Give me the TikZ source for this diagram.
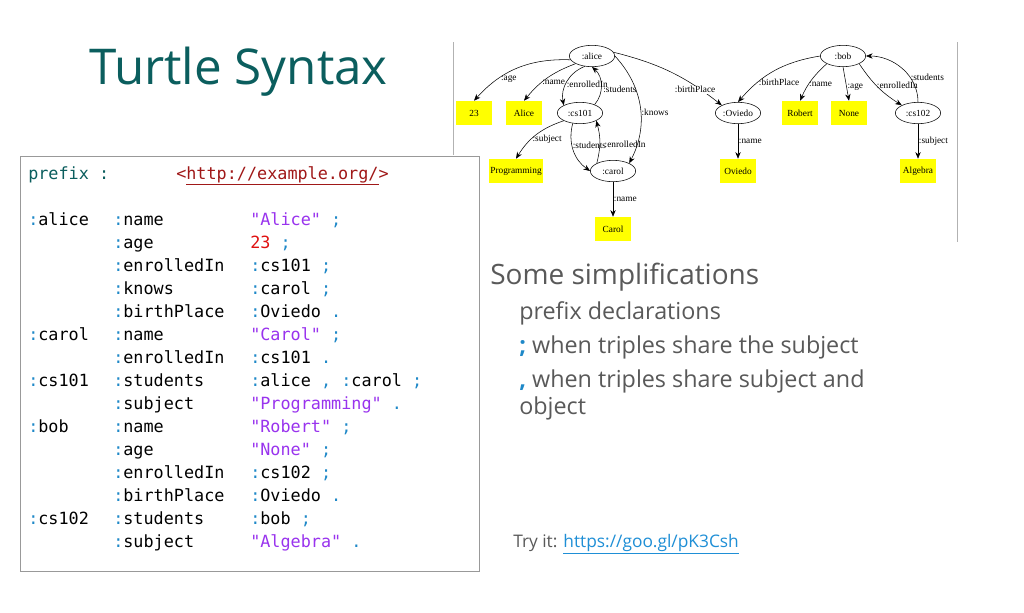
\documentclass[tikz,border=0pt]{standalone}
\usepackage{fontspec}
\setmainfont{Open Sans}
\setmonofont{DejaVu Sans Mono}
\newfontfamily\graphfont{Liberation Serif}
\usepackage{tikz}
\usetikzlibrary{arrows.meta,positioning,calc,shapes.geometric}
\definecolor{titleteal}{HTML}{0B5E5E}
\definecolor{kwteal}{HTML}{0B5E5E}
\definecolor{colblue}{HTML}{1E88C8}
\definecolor{strpurple}{HTML}{9933EE}
\definecolor{numred}{HTML}{E01010}
\definecolor{urlred}{HTML}{A01818}
\definecolor{textgray}{HTML}{595959}
\definecolor{linkblue}{HTML}{1F8FD6}
\definecolor{lityellow}{HTML}{FFFF00}
\newcommand{\tp}[1]{\textcolor{colblue}{#1}}
\newcommand{\tstr}[1]{\textcolor{strpurple}{#1}}
\newcommand{\tnum}[1]{\textcolor{numred}{#1}}
\begin{document}
\begin{tikzpicture}[x=0.75pt, y=-0.75pt,
    codetext/.style = {anchor=base west, inner sep=0pt, font=\ttfamily\fontsize{12.6}{14}\selectfont},
    res/.style = {draw, ellipse, minimum width=34pt, minimum height=16pt, inner sep=0pt, font=\graphfont\fontsize{7}{8}\selectfont},
    lit/.style = {fill=lityellow, minimum height=18pt, minimum width=27pt, inner sep=1pt, font=\graphfont\fontsize{7}{8}\selectfont},
    lbl/.style = {font=\graphfont\fontsize{7}{8}\selectfont, inner sep=0.5pt, anchor=west},
    rel/.style = {-{Stealth[length=5pt,width=4pt]}, thin},
    bullet/.style = {anchor=west, inner sep=0pt, text=textgray, font=\fontsize{17.5}{20}\selectfont}]
\useasboundingbox[fill=white] (0,0) rectangle (1024,612);
% title
\node[anchor=west, inner sep=0pt, text=titleteal, font=\fontsize{37}{44}\selectfont] (title) at (89,72) {Turtle Syntax};
% code box
\draw[gray!80] (20,156) rectangle (479,571);
\node[codetext, text=kwteal] (pfx) at (28,179) {prefix :};
\node[codetext, text=urlred] (url) at (176,179) {<\underline{http://example.org/}>};
\foreach \y/\subj/\pred/\obj in {
    219/{\tp{:}alice}/{\tp{:}name}/{\tstr{"Alice"} \tp{;}},
    242/{}/{\tp{:}age}/{\tnum{23} \tp{;}},
    265/{}/{\tp{:}enrolledIn}/{\tp{:}cs101 \tp{;}},
    288/{}/{\tp{:}knows}/{\tp{:}carol \tp{;}},
    311/{}/{\tp{:}birthPlace}/{\tp{:}Oviedo \tp{.}},
    334/{\tp{:}carol}/{\tp{:}name}/{\tstr{"Carol"} \tp{;}},
    357/{}/{\tp{:}enrolledIn}/{\tp{:}cs101 \tp{.}},
    380/{\tp{:}cs101}/{\tp{:}students}/{\tp{:}alice \tp{,} \tp{:}carol \tp{;}},
    403/{}/{\tp{:}subject}/{\tstr{"Programming"} \tp{.}},
    426/{\tp{:}bob}/{\tp{:}name}/{\tstr{"Robert"} \tp{;}},
    449/{}/{\tp{:}age}/{\tstr{"None"} \tp{;}},
    472/{}/{\tp{:}enrolledIn}/{\tp{:}cs102 \tp{;}},
    495/{}/{\tp{:}birthPlace}/{\tp{:}Oviedo \tp{.}},
    518/{\tp{:}cs102}/{\tp{:}students}/{\tp{:}bob \tp{;}},
    541/{}/{\tp{:}subject}/{\tstr{"Algebra"} \tp{.}}} {
  \node[codetext] (s\y) at (28,\y+6) {\subj};
  \node[codetext] (p\y) at (113,\y+6) {\pred};
  \node[codetext] (o\y) at (250,\y+6) {\obj};
}
% graph frame
\draw[gray!60] (453,42) -- (453,155);
\draw[gray!60] (957,42) -- (957,242);
% graph nodes
\node[res] (alice) at (592,56) {:alice};
\node[lit] (l23) at (474,113) {23};
\node[lit] (lAlice) at (524,113) {Alice};
\node[res] (cs101) at (580,113) {:cs101};
\node[lit] (lProg) at (516,171) {Programming};
\node[res] (carol) at (613,171) {:carol};
\node[lit] (lCarol) at (613,229) {Carol};
\node[res] (oviedo) at (738,113) {:Oviedo};
\node[lit] (lOviedo) at (738,171) {Oviedo};
\node[res] (bob) at (843,56) {:bob};
\node[lit] (lRobert) at (800,113) {Robert};
\node[lit] (lNone) at (849,113) {None};
\node[res] (cs102) at (918,113) {:cs102};
\node[lit] (lAlgebra) at (918,171) {Algebra};
% graph edges
\draw[rel] (alice.190) to[bend right=25] node[lbl, pos=0.72, xshift=2pt] {:age} (l23.north);
\draw[rel] (alice.205) to[bend right=15] node[lbl, pos=0.62] {:name} (lAlice.north);
\draw[rel] (alice.235) to[bend right=40] node[lbl, pos=0.55] {:enrolledIn} (cs101.north west);
\draw[rel] (cs101.30) to[bend right=45] node[lbl, pos=0.4, xshift=1pt] {:students} (alice.south);
\draw[rel] (alice.east) to[bend left=35] node[lbl, pos=0.55] {:knows} (carol.north east);
\draw[rel] (alice.10) to[bend left=12] node[lbl, pos=0.8, fill=white, xshift=-20pt] {:birthPlace} (oviedo.north west);
\draw[rel] (cs101.south west) to[bend right=20] node[lbl, pos=0.6] {:subject} (lProg.north);
\draw[rel] (cs101.235) to[bend right=35] node[lbl, pos=0.4] {:students} (carol.west);
\draw[rel] (carol.north west) to[bend right=15] node[lbl, pos=0.45, xshift=3pt] {:enrolledIn} (cs101.south east);
\draw[rel] (carol) -- node[lbl] {:name} (lCarol);
\draw[rel] (oviedo) -- node[lbl] {:name} (lOviedo);
\draw[rel] (bob.west) to[bend right=20] node[lbl, pos=0.72] {:birthPlace} (oviedo.north);
\draw[rel] (bob.south west) to[bend right=12] node[lbl, pos=0.62] {:name} (lRobert.north);
\draw[rel] (bob.south) -- node[lbl, pos=0.6] {:age} (lNone.north);
\draw[rel] (bob.south east) to[bend right=12] node[lbl, pos=0.45] {:enrolledIn} (cs102.north west);
\draw[rel] (cs102.north) to[out=90, in=0] node[lbl, pos=0.35] {:students} (bob.east);
\draw[rel] (cs102) -- node[lbl] {:subject} (lAlgebra);
% simplifications
\node[anchor=west, inner sep=0pt, text=textgray, font=\fontsize{21}{24}\selectfont] (simp) at (490,277) {Some simplifications};
\node[bullet] (b1) at (519,313) {prefix declarations};
\node[bullet] (b2) at (519,347) {\textcolor{colblue}{\textbf{;}} when triples share the subject};
\node[bullet] (b3) at (519,381) {\textcolor{colblue}{\textbf{,}} when triples share subject and};
\node[bullet] (b4) at (519,408) {object};
\node[anchor=west, inner sep=0pt, text=textgray, font=\fontsize{13}{15}\selectfont] (try) at (513,544) {Try it: \textcolor{linkblue}{\underline{https://goo.gl/pK3Csh}}};
\end{tikzpicture}
\end{document}
